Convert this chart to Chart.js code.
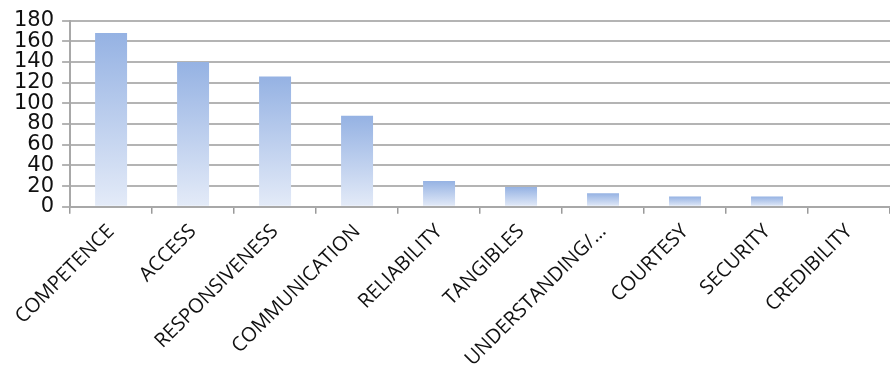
<!DOCTYPE html>
<html>
<head>
<meta charset="utf-8">
<script src="https://cdn.jsdelivr.net/npm/chart.js@4"></script>
<style>
  html, body { margin: 0; padding: 0; background: #fff; }
  #wrap { width: 890px; height: 370px; position: relative; }
</style>
</head>
<body>
<div id="wrap"><canvas id="dimChart"></canvas></div>
<script>
const categories = ['COMPETENCE', 'ACCESS', 'RESPONSIVENESS', 'COMMUNICATION', 'RELIABILITY',
  'TANGIBLES', 'UNDERSTANDING/…', 'COURTESY', 'SECURITY', 'CREDIBILITY'];
const counts = [168, 140, 126, 88, 25, 19, 13, 10, 10, 1];
const yTicks = [0, 20, 40, 60, 80, 100, 120, 140, 160, 180];

// each bar fades from blue at its top to pale at the base
function barFill(context) {
  const { chart } = context;
  const yScale = chart.scales.y;
  if (!chart.chartArea || !yScale || context.raw == null) return '#b8cbee';
  const top = yScale.getPixelForValue(context.raw);
  const bottom = yScale.getPixelForValue(0);
  const g = chart.ctx.createLinearGradient(0, top, 0, Math.max(bottom, top + 1));
  g.addColorStop(0, '#95b2e3');
  g.addColorStop(1, '#e4ebf8');
  return g;
}

const ctx = document.getElementById('dimChart').getContext('2d');
new Chart(ctx, {
  type: 'bar',
  data: {
    labels: categories,
    datasets: [{
      data: counts,
      backgroundColor: barFill,
      borderWidth: 0,
      categoryPercentage: 1,
      barPercentage: 0.39,
    }],
  },
  options: {
    responsive: true,
    maintainAspectRatio: false,
    animation: false,
    layout: { padding: { top: -4, right: 0, left: 6, bottom: -7 } },
    plugins: {
      legend: { display: false },
      tooltip: { enabled: false },
    },
    scales: {
      x: {
        offset: true,
        grid: {
          offset: true,
          drawOnChartArea: false,
          drawTicks: true,
          tickLength: 7,
          color: '#9a9a9a',
          lineWidth: 1.5,
        },
        border: { color: '#a8a8a8', width: 2 },
        ticks: {
          color: '#111',
          font: { family: 'Open Sans', size: 20 },
          maxRotation: 45,
          minRotation: 45,
          autoSkip: false,
          padding: 6,
        },
      },
      y: {
        min: 0,
        max: 180,
        afterBuildTicks: (axis) => { axis.ticks = yTicks.map(v => ({ value: v })); },
        grid: {
          color: '#b4b4b4',
          lineWidth: 2,
          drawTicks: true,
          tickLength: 8,
        },
        border: { color: '#a8a8a8', width: 2 },
        ticks: {
          color: '#111',
          font: { family: 'DejaVu Sans', size: 21 },
          autoSkip: false,
          padding: 8,
        },
      },
    },
  },
});
</script>
</body>
</html>
